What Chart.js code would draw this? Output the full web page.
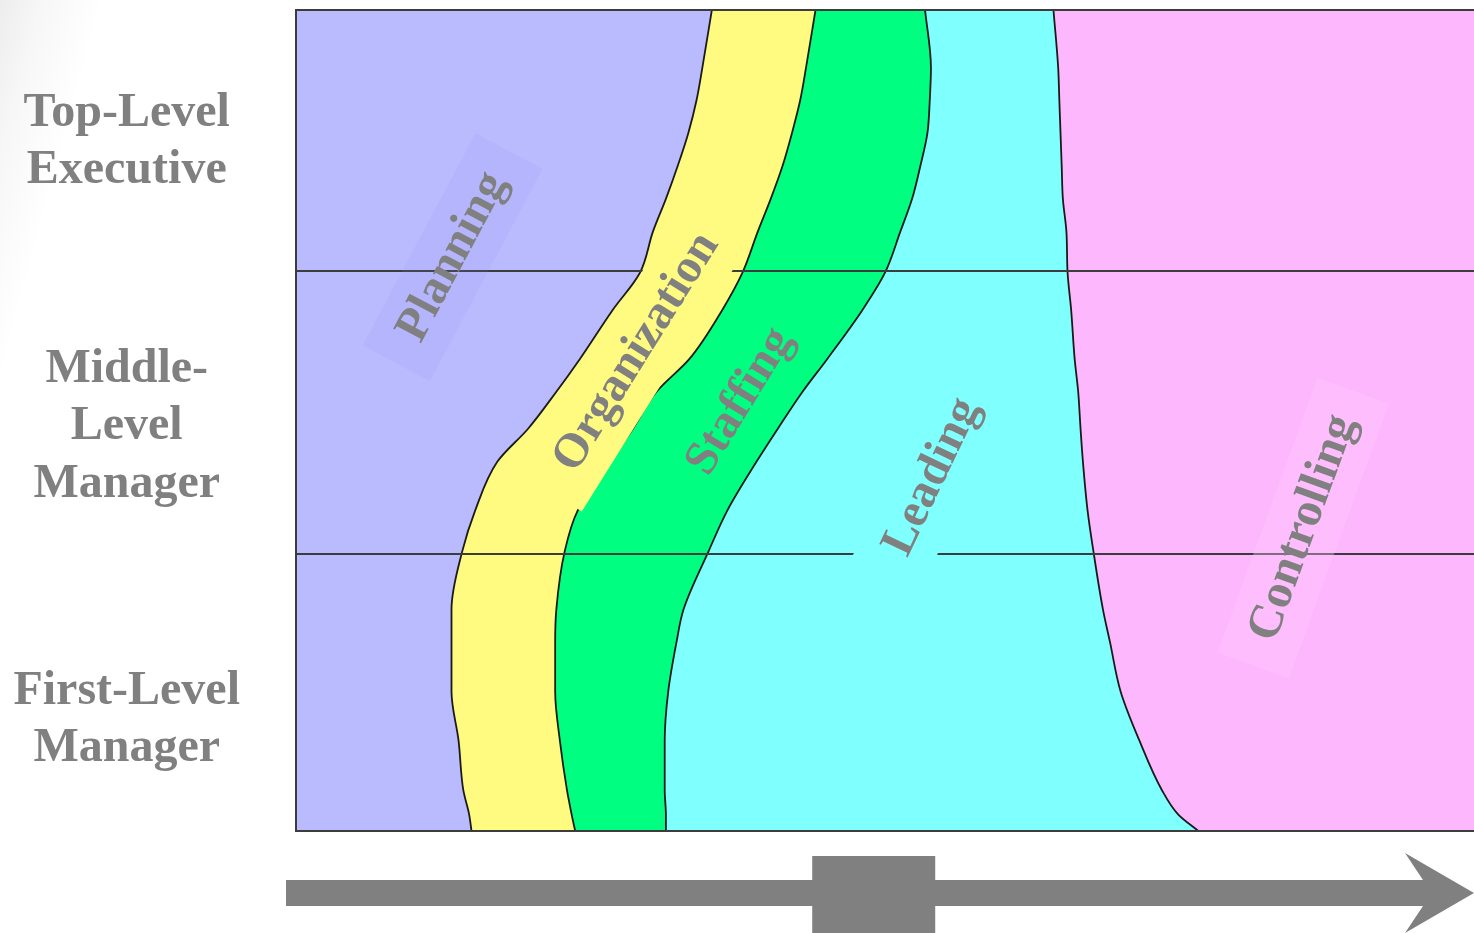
<!DOCTYPE html>
<html>
<head>
<meta charset="utf-8">
<script src="https://cdn.jsdelivr.net/npm/chart.js@4.4.1/dist/chart.umd.min.js"></script>
<style>
  html, body { margin: 0; padding: 0; overflow: hidden; }
  body {
    width: 1474px; height: 933px;
    background: linear-gradient(105deg, #ededed 0%, #f7f7f7 2.5%, #ffffff 6%);
  }
  canvas { display: block; }
</style>
</head>
<body>
<canvas id="chart" width="1474" height="933"></canvas>
<script>
// level in the hierarchy: 0 = bottom of first-line management, 100 = top executive
const depth = [0, 2, 5, 11, 17, 23, 27, 34, 39, 45, 49, 53.5, 57.5, 63.5, 68, 73, 77, 81, 85, 89, 93, 100];

// cumulative share of working time (%) at which each function ends
const planningTo     = [14.9, 14.7, 14.2, 13.8, 13.2, 13.2, 13.2, 14.1, 15.2, 17.1, 19.7, 22.1, 24.1, 26.9, 29.2, 30.3, 31.4, 32.4, 33.3, 34.0, 34.5, 35.3];
const organizationTo = [23.7, 23.4, 23.0, 22.4, 22.0, 22.0, 22.1, 22.8, 23.9, 26.7, 28.6, 30.6, 33.4, 36.2, 37.9, 39.2, 40.3, 41.3, 42.1, 42.8, 43.3, 44.1];
const staffingTo     = [31.4, 31.4, 31.3, 31.3, 31.6, 32.3, 32.9, 35.0, 36.6, 39.1, 40.9, 43.0, 45.1, 48.1, 50.0, 51.3, 52.3, 53.0, 53.6, 53.8, 53.9, 53.4];
const leadingTo      = [76.6, 74.9, 73.5, 71.6, 70.0, 69.1, 68.5, 67.7, 67.2, 66.8, 66.6, 66.4, 66.1, 65.8, 65.5, 65.4, 65.1, 65.0, 64.9, 64.8, 64.7, 64.3];
const controllingTo  = [100, 100, 100, 100, 100, 100, 100, 100, 100, 100, 100, 100, 100, 100, 100, 100, 100, 100, 100, 100, 100, 100];

const functionNames = ['Planning', 'Organization', 'Staffing', 'Leading', 'Controlling'];
const levelNames = [['First-Level', 'Manager'], ['Middle-', 'Level', 'Manager'], ['Top-Level', 'Executive']];
const levelMarks = [13.5, 49.2, 83.9];
const levelBreaks = [0, 33.7, 68.2, 100];

const bandColors = ['#babaff', '#fffb80', '#00ff80', '#80ffff', '#fdb8fd'];
const edgeColor = '#1a1a1a';
const textGray = '#808080';
const labelFont = 'bold 48px "Liberation Serif", "Times New Roman", serif';

// where the function names sit (data units) and how they are tilted
const labelSpots = [
    { x: 13.3, y: 69.9, angle: -62, box: 'rgba(150,150,240,0.12)' },
    { x: 28.9, y: 58.3, angle: -58, box: '#fffb80' },
    { x: 37.7, y: 52.3, angle: -58.5, box: '#00ff80' },
    { x: 54.0, y: 43.1, angle: -64.5, box: '#80ffff' },
    { x: 85.5, y: 36.9, angle: -70, box: 'rgba(255,200,255,0.35)' }
];

const edges = [planningTo, organizationTo, staffingTo, leadingTo, controllingTo];

const datasets = edges.map((edge, i) => ({
    label: functionNames[i],
    data: edge.map((v, k) => ({ x: v, y: depth[k] })),
    backgroundColor: bandColors[i],
    borderColor: edgeColor,
    borderWidth: i === edges.length - 1 ? 0 : 1.8,
    pointRadius: 0,
    cubicInterpolationMode: 'monotone',
    fill: false
}));

// each band = everything left of its right edge, painted right to left
const bandFill = {
    id: 'bandFill',
    beforeDatasetsDraw(chart) {
        const { ctx, chartArea: a } = chart;
        ctx.save();
        ctx.beginPath();
        ctx.rect(a.left, a.top, a.right - a.left, a.bottom - a.top);
        ctx.clip();
        for (let i = chart.data.datasets.length - 1; i >= 0; i--) {
            const line = chart.getDatasetMeta(i).dataset;
            ctx.beginPath();
            line.path(ctx);
            ctx.lineTo(a.left, a.top);
            ctx.lineTo(a.left, a.bottom);
            ctx.closePath();
            ctx.fillStyle = chart.data.datasets[i].backgroundColor;
            ctx.fill();
        }
        ctx.restore();
    }
};

// function names on tilted plates, drawn over the level lines
const bandLabels = {
    id: 'bandLabels',
    afterDraw(chart) {
        const { ctx } = chart;
        const xs = chart.scales.x, ys = chart.scales.y;
        ctx.save();
        ctx.font = labelFont;
        labelSpots.forEach((spot, i) => {
            const name = functionNames[i];
            const w = ctx.measureText(name).width + 56;
            ctx.save();
            ctx.translate(xs.getPixelForValue(spot.x), ys.getPixelForValue(spot.y));
            ctx.rotate(spot.angle * Math.PI / 180);
            ctx.fillStyle = spot.box;
            ctx.fillRect(-w / 2, -38, w, 76);
            ctx.fillStyle = textGray;
            ctx.textAlign = 'center';
            ctx.textBaseline = 'middle';
            ctx.fillText(name, 0, 0);
            ctx.restore();
        });
        ctx.restore();
    }
};

// the time arrow under the plot
const timeArrow = {
    id: 'timeArrow',
    afterDraw(chart) {
        const { ctx, chartArea, width, height } = chart;
        const mid = chartArea.bottom + 62;
        const half = 13;
        ctx.save();
        ctx.fillStyle = textGray;
        ctx.beginPath();
        ctx.moveTo(chartArea.left - 10, mid - half);
        ctx.lineTo(width - 51, mid - half);
        ctx.lineTo(width - 69, mid - 40);
        ctx.lineTo(width, mid);
        ctx.lineTo(width - 69, mid + 40);
        ctx.lineTo(width - 51, mid + half);
        ctx.lineTo(chartArea.left - 10, mid + half);
        ctx.closePath();
        ctx.fill();
        const bx = chart.scales.x.getPixelForValue(49);
        ctx.fillRect(bx - 61, mid - 37, 123, height - (mid - 37));
        ctx.restore();
    }
};

new Chart(document.getElementById('chart'), {
    type: 'line',
    data: { datasets: datasets },
    options: {
        indexAxis: 'y',
        responsive: false,
        animation: false,
        layout: { padding: { top: 10, bottom: 102, left: 0, right: 0 } },
        scales: {
            x: {
                type: 'linear',
                min: 0,
                max: 100,
                display: false
            },
            y: {
                type: 'linear',
                position: 'left',
                min: 0,
                max: 100,
                afterBuildTicks: (scale) => {
                    scale.ticks = levelBreaks.concat(levelMarks)
                        .sort((a, b) => a - b)
                        .map(v => ({ value: v }));
                },
                afterFit: (scale) => {
                    scale.width = 296;
                    scale.paddingTop = 0;
                    scale.paddingBottom = 0;
                },
                grid: {
                    z: 1,
                    drawTicks: false,
                    lineWidth: 2,
                    color: (ctx) => (ctx.tick && levelBreaks.includes(ctx.tick.value)) ? '#3c3c3c' : 'rgba(0,0,0,0)'
                },
                border: { display: true, color: '#3c3c3c', width: 2, z: 1 },
                ticks: {
                    autoSkip: false,
                    crossAlign: 'center',
                    padding: 56,
                    color: textGray,
                    font: { family: '"Liberation Serif", "Times New Roman", serif', size: 48, weight: 'bold', lineHeight: 1.2 },
                    callback: (value) => {
                        const i = levelMarks.indexOf(value);
                        return i >= 0 ? levelNames[i] : '';
                    }
                }
            }
        },
        plugins: {
            legend: { display: false },
            tooltip: { enabled: false }
        }
    },
    plugins: [bandFill, bandLabels, timeArrow]
});
</script>
</body>
</html>
